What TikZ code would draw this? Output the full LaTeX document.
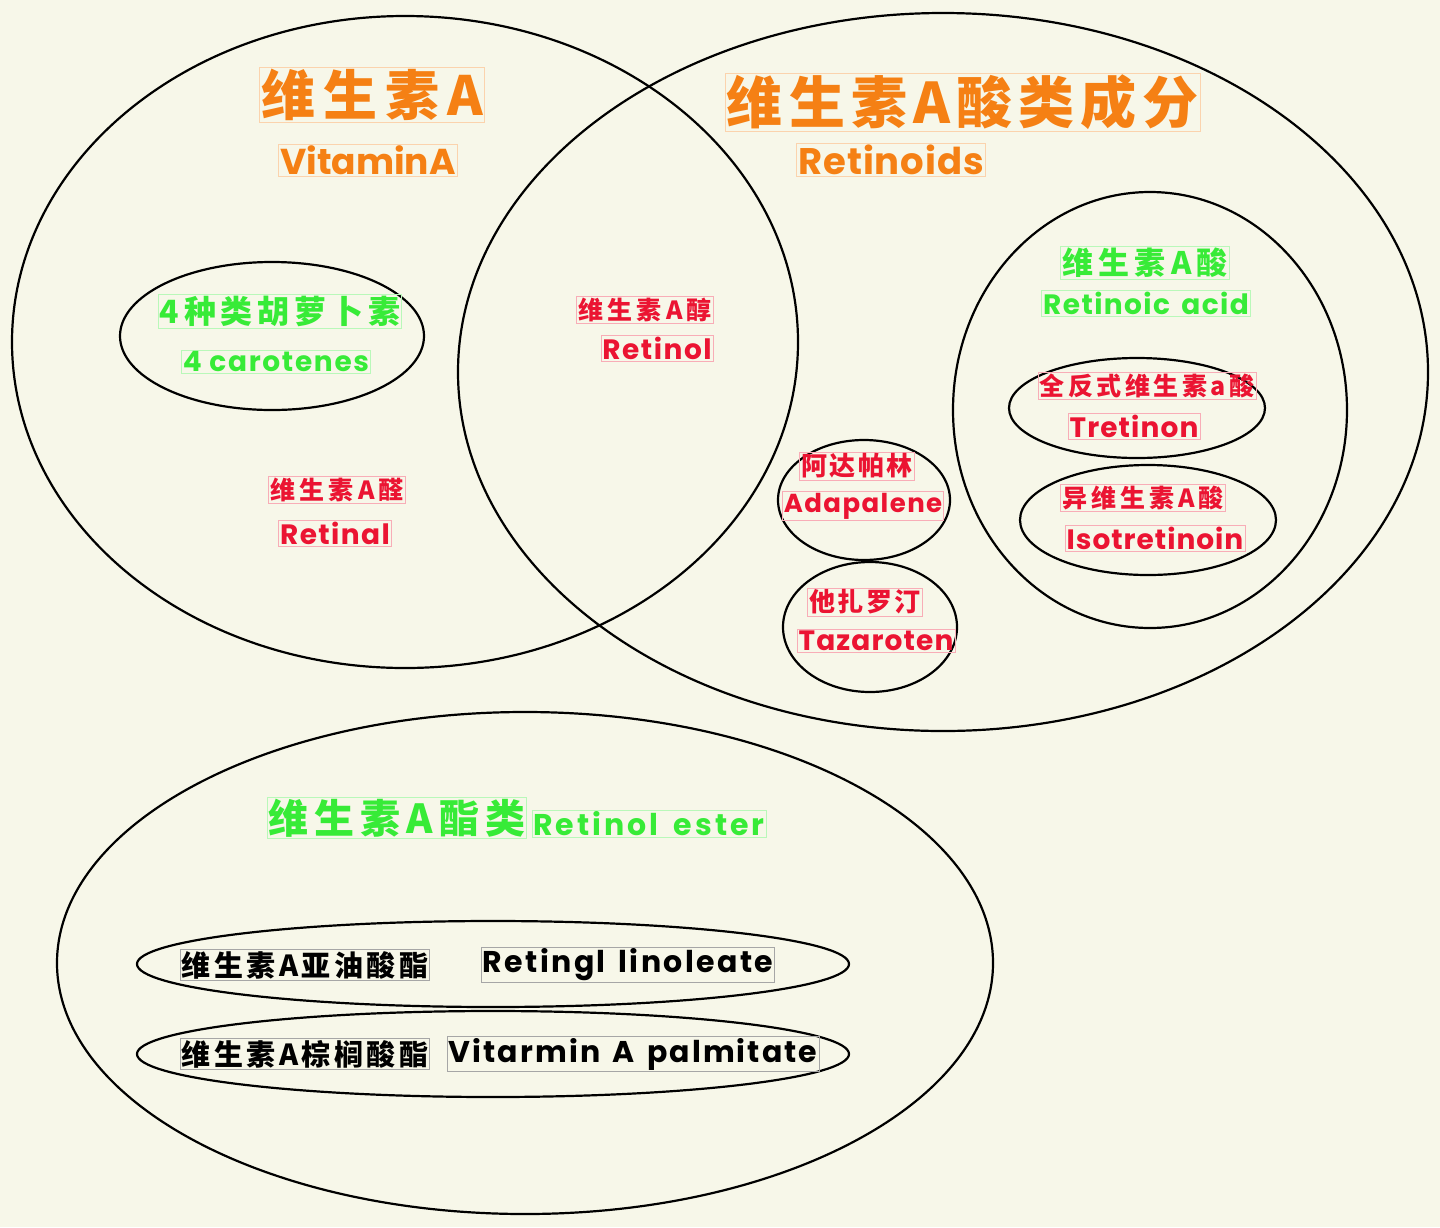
\documentclass[tikz,border=0pt]{standalone}
\usepackage{fontspec}
\newfontfamily\cjk{Noto Sans CJK SC}
\newfontfamily\lat{Poppins}
\usetikzlibrary{shapes.geometric}
\definecolor{bg}{RGB}{247,247,233}
\definecolor{org}{RGB}{245,128,20}
\definecolor{grn}{RGB}{55,235,55}
\definecolor{rd}{RGB}{235,20,50}
\newcommand\fs[1]{\fontsize{#1}{#1}\selectfont}
\tikzset{
  ring/.style={draw=black, line width=2.2pt, ellipse, inner sep=0pt},
  lbl/.style={inner sep=1.5pt, draw=#1!35, line width=0.6pt, text=#1},
  zh/.style 2 args={font=\cjk\bfseries\fs{#1}\addfontfeature{LetterSpace=#2}},
  en/.style 2 args={font=\lat\bfseries\fs{#1}\addfontfeature{LetterSpace=#2}},
}
\begin{document}
\begin{tikzpicture}[x=1pt,y=-1pt]
\fill[bg] (0,0) rectangle (1440,1227);
\useasboundingbox (0,0) rectangle (1440,1227);
% ellipses
\node[ring, minimum width=786pt, minimum height=652pt] (vitA) at (405,342) {};
\node[ring, minimum width=970pt, minimum height=718pt] (retinoids) at (943,372) {};
\node[ring, minimum width=304pt, minimum height=148pt] (carot) at (272,336) {};
\node[ring, minimum width=394pt, minimum height=436pt] (racid) at (1150,410) {};
\node[ring, minimum width=256pt, minimum height=100pt] (tret) at (1137,408) {};
\node[ring, minimum width=256pt, minimum height=110pt] (iso) at (1148,520) {};
\node[ring, minimum width=172pt, minimum height=120pt] (adap) at (864,500) {};
\node[ring, minimum width=174pt, minimum height=130pt] (taz) at (870,627) {};
\node[ring, minimum width=936pt, minimum height=502pt] (ester) at (525,963) {};
\node[ring, minimum width=712pt, minimum height=86pt] (lino) at (493,964) {};
\node[ring, minimum width=712pt, minimum height=86pt] (palm) at (493,1054) {};
% texts
\node[lbl=org, zh={54}{15}] (tA) at (372,95) {维生素A};
\node[lbl=org, en={36}{0}] (tAen) at (368,160) {VitaminA};
\node[lbl=org, zh={56}{11}] (tR) at (963,102) {维生素A酸类成分};
\node[lbl=org, en={37}{2.5}] (tRen) at (891,160) {Retinoids};
\node[lbl=grn, zh={32}{15}] (tC) at (280,311) {4种类胡萝卜素};
\node[lbl=grn, en={28}{6}] (tCen) at (276,362) {4 carotenes};
\node[lbl=rd, zh={25}{17}] (tOl) at (645,310) {维生素A醇};
\node[lbl=rd, en={28}{5.5}] (tOlen) at (657,348) {Retinol};
\node[lbl=grn, zh={31}{17}] (tAc) at (1145,263) {维生素A酸};
\node[lbl=grn, en={28}{5}] (tAcen) at (1146,303) {Retinoic\hspace{4pt} acid};
\node[lbl=rd, zh={25}{14}] (tTr) at (1147,386) {全反式维生素a酸};
\node[lbl=rd, en={28}{4}] (tTren) at (1134,426) {Tretinon};
\node[lbl=rd, zh={25}{16}] (tIs) at (1143,498) {异维生素A酸};
\node[lbl=rd, en={28}{3.5}] (tIsen) at (1155,538) {Isotretinoin};
\node[lbl=rd, zh={26}{10}] (tAd) at (857,466) {阿达帕林};
\node[lbl=rd, en={26}{5.5}] (tAden) at (863,506) {Adapalene};
\node[lbl=rd, zh={26}{10}] (tTz) at (865,602) {他扎罗汀};
\node[lbl=rd, en={28}{4}] (tTzen) at (876,641) {Tazaroten};
\node[lbl=rd, zh={25}{17}] (tAl) at (337,490) {维生素A醛};
\node[lbl=rd, en={28}{5}] (tAlen) at (335,533) {Retinal};
\node[lbl=grn, zh={40}{15}] (tE) at (397,818) {维生素A酯类};
\node[lbl=grn, en={30}{10}] (tEen) at (649,824) {Retinol\hspace{6pt} ester};
\node[lbl=black, zh={29}{12}] (tL) at (305,965) {维生素A亚油酸酯};
\node[lbl=black, en={30}{8}] (tLen) at (628,965) {Retingl\hspace{4pt} linoleate};
\node[lbl=black, zh={29}{12}] (tP) at (305,1054) {维生素A棕榈酸酯};
\node[lbl=black, en={30}{7}] (tPen) at (633,1054) {Vitarmin\hspace{4pt} A\hspace{4pt} palmitate};
\end{tikzpicture}
\end{document}
